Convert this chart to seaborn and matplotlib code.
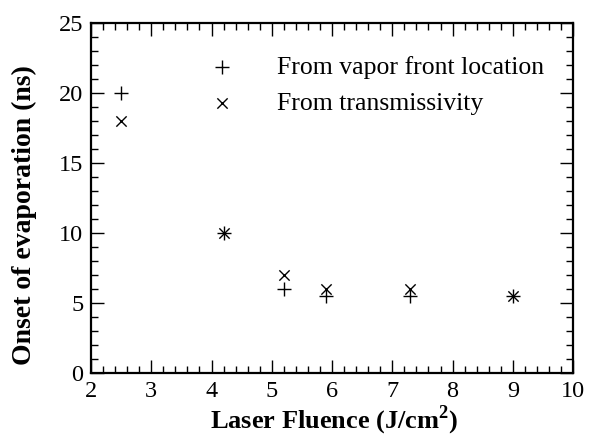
import matplotlib
matplotlib.use("Agg")
import matplotlib.pyplot as plt
import seaborn as sns
import pandas as pd
from matplotlib.ticker import MultipleLocator

fluence = [2.5, 4.2, 5.2, 5.9, 7.3, 9.0]
vapor_front = [20, 10, 6, 5.5, 5.5, 5.5]
transmissivity = [18, 10, 7, 6, 6, 5.5]
labels = ["From vapor front location", "From transmissivity"]

sns.set_theme(style="ticks")
plt.rcParams['font.family'] = ['Liberation Serif', 'DejaVu Serif']
plt.rcParams['mathtext.fontset'] = 'custom'
plt.rcParams['mathtext.rm'] = 'Liberation Serif'
plt.rcParams['mathtext.bf'] = 'Liberation Serif:bold'
for k in ['text.color', 'axes.labelcolor', 'xtick.color', 'ytick.color', 'axes.edgecolor']:
    plt.rcParams[k] = 'black'

df1 = pd.DataFrame({"x": fluence, "y": vapor_front})
df2 = pd.DataFrame({"x": fluence, "y": transmissivity})

fig = plt.figure(figsize=(5.89, 4.38), dpi=100)
ax = fig.add_axes([0.1545, 0.1484, 0.8185, 0.7996])

sns.scatterplot(data=df1, x="x", y="y", marker="+", s=110, color="black",
                linewidth=1.0, ax=ax, label=labels[0], zorder=3)
sns.scatterplot(data=df2, x="x", y="y", marker="x", s=55, color="black",
                linewidth=1.0, ax=ax, label=labels[1], zorder=3)

ax.set_xlim(2, 10)
ax.set_ylim(0, 25)
ax.xaxis.set_major_locator(MultipleLocator(1))
ax.xaxis.set_minor_locator(MultipleLocator(0.2))
ax.yaxis.set_major_locator(MultipleLocator(5))
ax.yaxis.set_minor_locator(MultipleLocator(1))
ax.tick_params(which='both', direction='in', top=True, right=True,
               labelsize=17.5, colors='black', width=1.0)
ax.tick_params(which='major', length=9.5, pad=5.5)
ax.tick_params(which='minor', length=5)
for sp in ax.spines.values():
    sp.set_linewidth(1.6)
    sp.set_color('black')

ax.set_xlabel(r"Laser Fluence (J/cm$^\mathbf{2}$)", fontsize=19, fontweight='bold')
ax.set_ylabel("Onset of evaporation (ns)", fontsize=20, fontweight='bold')
ax.xaxis.set_label_coords(0.504, -0.088)
ax.yaxis.set_label_coords(-0.112, 0.451)

leg = ax.legend(loc='upper left', bbox_to_anchor=(0.245, 0.905), frameon=False,
                fontsize=18.5, handlelength=1.0, handletextpad=1.64,
                labelspacing=0.5, borderpad=0, borderaxespad=0)

fig.savefig("out.png", dpi=100)
